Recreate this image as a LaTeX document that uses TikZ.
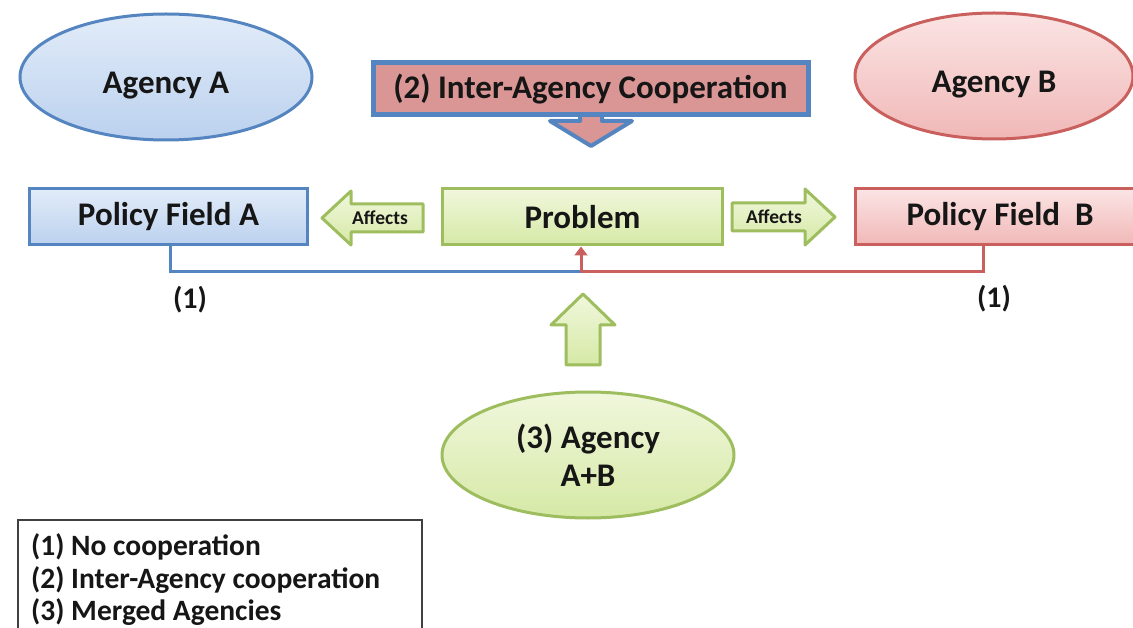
\documentclass[tikz,border=0pt]{standalone}
\usepackage{fontspec}
\setmainfont{Carlito}
\usetikzlibrary{shapes.geometric,arrows.meta}

\definecolor{ink}{HTML}{161616}
\definecolor{bluedge}{HTML}{5585C0}
\definecolor{bluetop}{HTML}{E2ECF9}
\definecolor{bluebot}{HTML}{BBD1EE}
\definecolor{rededge}{HTML}{C9605D}
\definecolor{redtop}{HTML}{FBE4E4}
\definecolor{redbot}{HTML}{F0B8B7}
\definecolor{salmon}{HTML}{D99694}
\definecolor{grnedge}{HTML}{9EBD5E}
\definecolor{grntop}{HTML}{F0F7DC}
\definecolor{grnbot}{HTML}{D6E9A6}
\definecolor{legedge}{HTML}{404040}

\begin{document}
\begin{tikzpicture}[x=1pt,y=-1pt,
  big/.style={font=\bfseries\fontsize{33}{38}\selectfont, text=ink},
  small/.style={font=\bfseries\fontsize{19.5}{22}\selectfont, text=ink},
  legtext/.style={font=\bfseries\fontsize{29.5}{33}\selectfont, text=ink, anchor=base west, inner sep=0pt},
  fieldbox/.style={big, rectangle, minimum height=56pt, inner sep=0pt, line width=3pt},
  bluefill/.style={draw=bluedge, top color=bluetop, bottom color=bluebot},
  redfill/.style={draw=rededge, top color=redtop, bottom color=redbot},
  grnfill/.style={draw=grnedge, top color=grntop, bottom color=grnbot},
  agency/.style={big, ellipse, inner sep=0pt, line width=3pt},
  lowtext/.style={text height=33pt, text depth=0pt},
  blockarrow/.style={line width=3pt, line join=round},
  linkA/.style={draw=bluedge, line width=3pt},
  linkB/.style={draw=rededge, line width=3pt}
]
\useasboundingbox (0,0) rectangle (1133,628);
\clip (0,0) rectangle (1133,628);

% agencies
\node[agency, lowtext, bluefill, minimum width=292pt, minimum height=126pt] (aga) at (166,77) {Agency A};
\node[agency, lowtext, redfill, minimum width=278pt, minimum height=126pt] (agb) at (994,76) {Agency B};

% inter-agency cooperation: arrow first, banner on top of its shaft
\draw[blockarrow, draw=bluedge, fill=salmon, line width=4pt]
  (580,108) -- (580,121) -- (550,121) -- (591,146) -- (632,121) -- (602,121) -- (602,108) -- cycle;
\node[big, rectangle, draw=bluedge, line width=5pt, fill=salmon, minimum width=435pt,
      minimum height=52pt, inner sep=0pt] (coop) at (590.5,89) {(2) Inter-Agency Cooperation};

% policy fields and the problem
\node[fieldbox, bluefill, minimum width=278pt] (pfa) at (168.5,217) {Policy Field A};
\node[fieldbox, grnfill, minimum width=280pt] (prob) at (582.5,217) {Problem};
\node[fieldbox, redfill, minimum width=290pt] (pfb) at (1000,217) {Policy Field\ \ B};

% "affects" arrows
\draw[blockarrow, grnfill]
  (423,204) -- (351,204) -- (351,191) -- (322,218) -- (351,245) -- (351,232) -- (423,232) -- cycle;
\node[small] (affl) at (380,218) {Affects};
\draw[blockarrow, grnfill]
  (732,203) -- (805,203) -- (805,189) -- (835,217) -- (805,245) -- (805,231) -- (732,231) -- cycle;
\node[small] (affr) at (774,217) {Affects};

% no cooperation: both fields report separately
\coordinate (join) at (581,272);
\draw[linkA] (pfa.south -| 170,0) |- (join);
\draw[linkB] ([xshift=-17pt]pfb.south) |- (join);
\draw[draw=rededge, line width=3pt, -{Triangle[length=9pt,width=13pt]}] (join) -- (prob.south -| join);
\node[big, font=\bfseries\fontsize{30}{36}\selectfont] (one a) at (190,300) {(1)};
\node[big, font=\bfseries\fontsize{30}{36}\selectfont] (one b) at (994,299) {(1)};

% merged agency
\draw[blockarrow, grnfill]
  (566,365) -- (566,325) -- (551,325) -- (583,294) -- (615,325) -- (600,325) -- (600,365) -- cycle;
\node[agency, grnfill, minimum width=292pt, minimum height=126pt, align=center,
      font=\bfseries\fontsize{33}{38}\selectfont] (agab) at (588,455) {(3) Agency\\A+B};

% legend
\draw[draw=legedge, line width=1.3pt, fill=white] (18,520) rectangle (422,650);
\node[legtext] (leg1) at (31,555) {(1) No cooperation};
\node[legtext] (leg2) at (31,588) {(2) Inter-Agency cooperation};
\node[legtext] (leg3) at (31,620) {(3) Merged Agencies};
\end{tikzpicture}
\end{document}
